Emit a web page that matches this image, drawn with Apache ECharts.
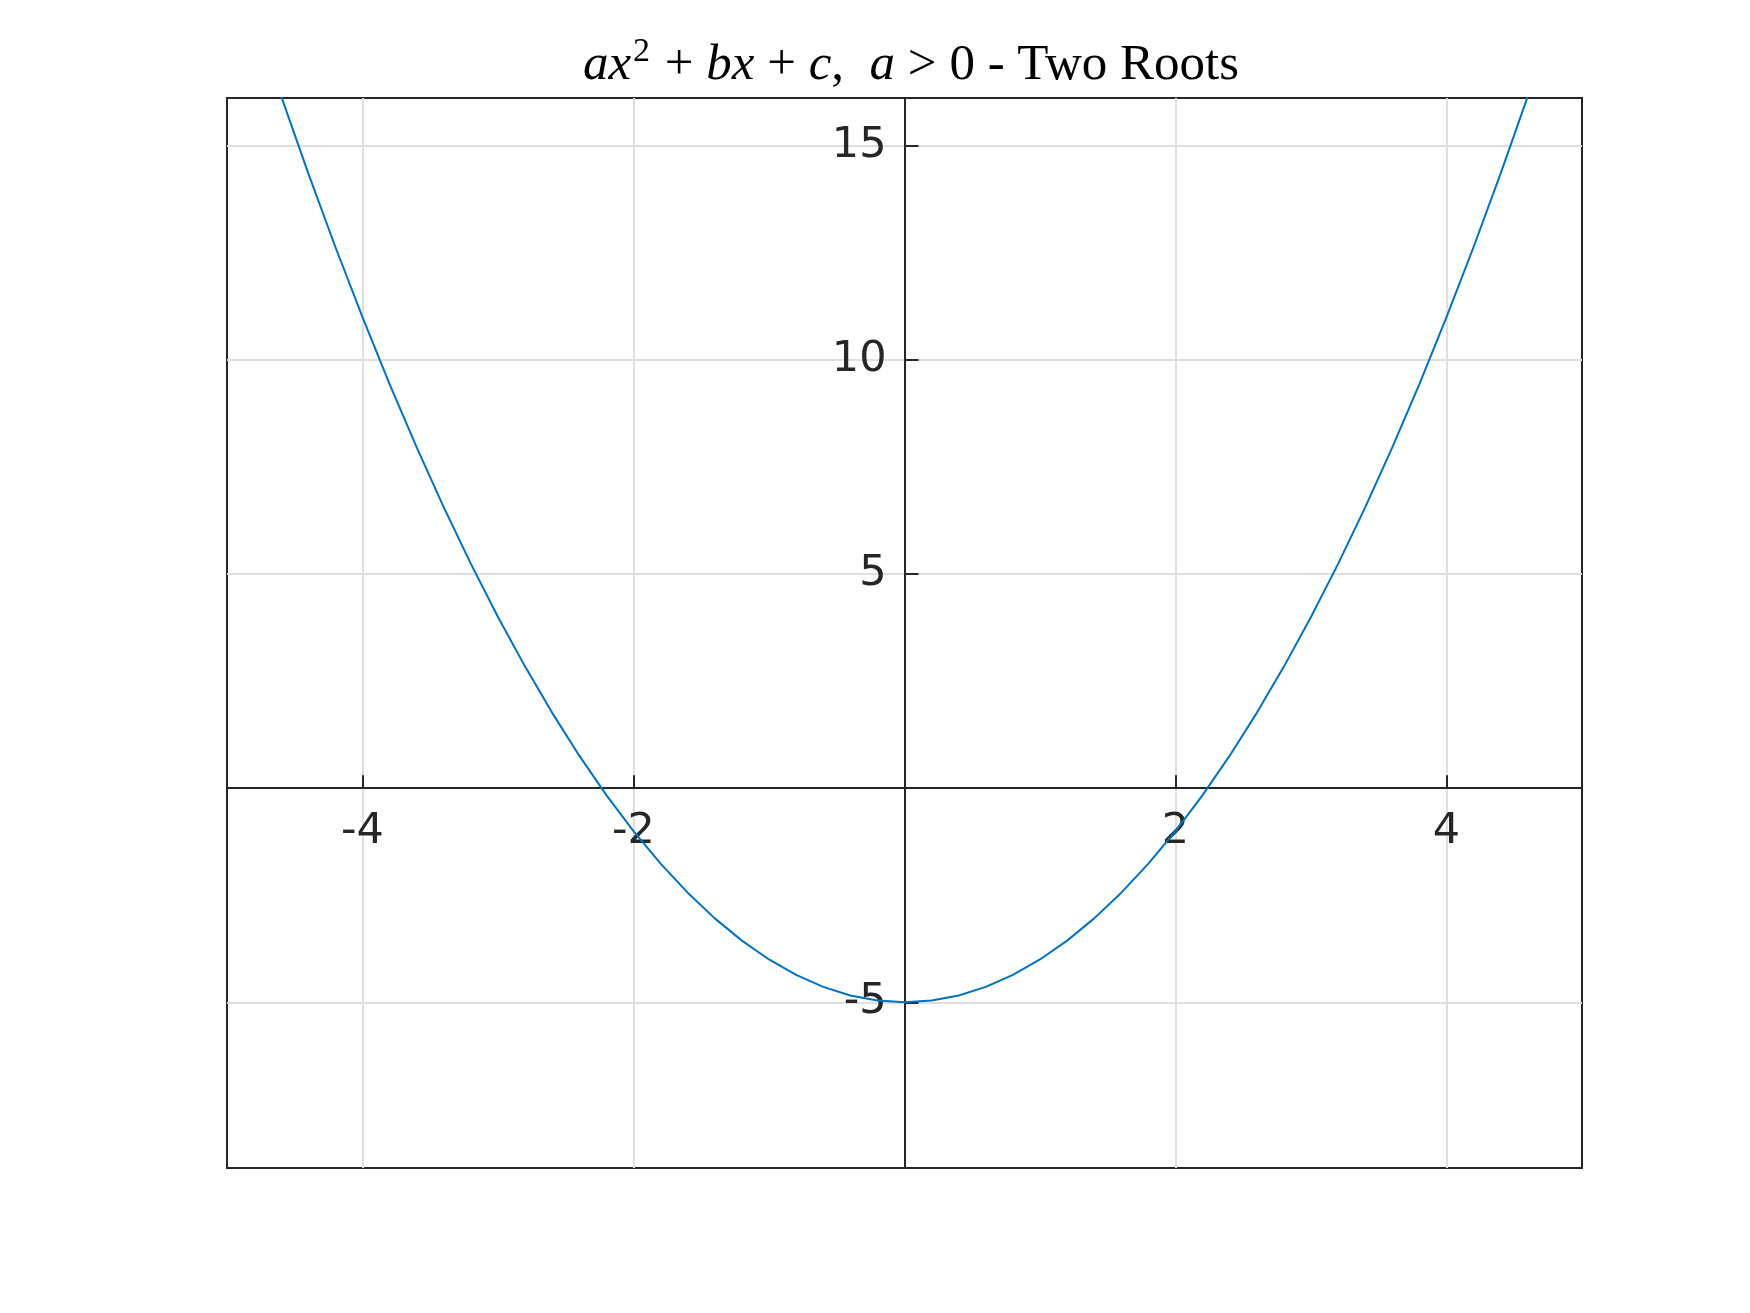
<!DOCTYPE html>
<html>
<head>
<meta charset="utf-8">
<script src="https://cdn.jsdelivr.net/npm/echarts@6/dist/echarts.min.js"></script>
<style>html,body{margin:0;padding:0;background:#fff}#c{width:1750px;height:1313px}</style>
</head>
<body>
<div id="c"></div>
<script>
// Data
const xValues = [-5, -4.8, -4.6, -4.4, -4.2, -4, -3.8, -3.6, -3.4, -3.2, -3, -2.8, -2.6, -2.4, -2.2, -2, -1.8, -1.6, -1.4, -1.2, -1, -0.8, -0.6, -0.4, -0.2, 0,
  0.2, 0.4, 0.6, 0.8, 1, 1.2, 1.4, 1.6, 1.8, 2, 2.2, 2.4, 2.6, 2.8, 3, 3.2, 3.4, 3.6, 3.8, 4, 4.2, 4.4, 4.6, 4.8, 5];
const yValues = [20, 18.04, 16.16, 14.36, 12.64, 11, 9.44, 7.96, 6.56, 5.24, 4, 2.84, 1.76, 0.76, -0.16, -1, -1.76, -2.44, -3.04, -3.56, -4, -4.36, -4.64, -4.84, -4.96, -5,
  -4.96, -4.84, -4.64, -4.36, -4, -3.56, -3.04, -2.44, -1.76, -1, -0.16, 0.76, 1.76, 2.84, 4, 5.24, 6.56, 7.96, 9.44, 11, 12.64, 14.36, 16.16, 18.04, 20];
const xTicks = [-4, -2, 2, 4];
const yTicks = [-5, 5, 10, 15];
const xRange = [-5, 5];
const yRange = [-8.87, 16.12];

const axisColor = '#262626';
const gridColor = '#dfdfdf';
const G = {left: 227, top: 98, width: 1355, height: 1070};
const chart = echarts.init(document.getElementById('c'));
const gridLines = xTicks.map(v => ({xAxis: v})).concat(yTicks.map(v => ({yAxis: v})));

const serif = {fontFamily: 'Liberation Serif', fontWeight: 'normal', fontSize: 51, color: '#000', lineHeight: 56, verticalAlign: 'bottom'};

function buildOption(xOff, yOff) {
  return {
    animation: false,
    backgroundColor: '#fff',
    title: {
      text: '{i|ax}{s|2}{n| + }{i|bx}{n| + }{i|c}{n|,  }{i|a}{n| > 0 - Two Roots}',
      left: 906,
      textAlign: 'center',
      top: 30,
      textStyle: {
        fontWeight: 'normal',
        rich: {
          i: Object.assign({}, serif, {fontStyle: 'italic'}),
          n: Object.assign({}, serif),
          s: Object.assign({}, serif, {fontSize: 34, verticalAlign: 'top', padding: [0, 2, 0, 2]})
        }
      }
    },
    grid: Object.assign({show: true, borderColor: axisColor, borderWidth: 2, backgroundColor: 'transparent'}, G),
    xAxis: {
      type: 'value', min: xRange[0], max: xRange[1], position: 'bottom', offset: xOff, z: 5,
      axisLine: {show: true, onZero: false, lineStyle: {color: axisColor, width: 2}},
      axisTick: {show: true, inside: true, length: 13, customValues: xTicks, lineStyle: {color: axisColor, width: 2}},
      axisLabel: {show: true, customValues: xTicks, margin: 22, fontFamily: 'DejaVu Sans', fontSize: 43, color: axisColor},
      splitLine: {show: false}
    },
    yAxis: {
      type: 'value', min: yRange[0], max: yRange[1], position: 'left', offset: yOff, z: 5,
      axisLine: {show: true, onZero: false, lineStyle: {color: axisColor, width: 2}},
      axisTick: {show: true, inside: true, length: 14, customValues: yTicks, lineStyle: {color: axisColor, width: 2}},
      axisLabel: {show: true, customValues: yTicks, margin: 18, fontFamily: 'DejaVu Sans', fontSize: 43, color: axisColor},
      splitLine: {show: false}
    },
    series: [
      {
        type: 'line', z: 1, data: [], showSymbol: false, silent: true,
        markLine: {silent: true, symbol: ['none', 'none'], label: {show: false},
          lineStyle: {color: gridColor, width: 2, type: 'solid'}, data: gridLines, animation: false}
      },
      {
        type: 'line', z: 6, data: xValues.map((x, i) => [x, yValues[i]]),
        showSymbol: false, clip: true, smooth: false,
        lineStyle: {color: '#0072BD', width: 2}
      }
    ]
  };
}

chart.setOption(buildOption(0, 0));
// move the axes onto the zero lines using the library's own scales
const zeroY = chart.convertToPixel({yAxisIndex: 0}, 0);
const zeroX = chart.convertToPixel({xAxisIndex: 0}, 0);
const xOff = -((G.top + G.height) - zeroY);
const yOff = -(zeroX - G.left);
chart.setOption(buildOption(xOff, yOff), true);
</script>
</body>
</html>
